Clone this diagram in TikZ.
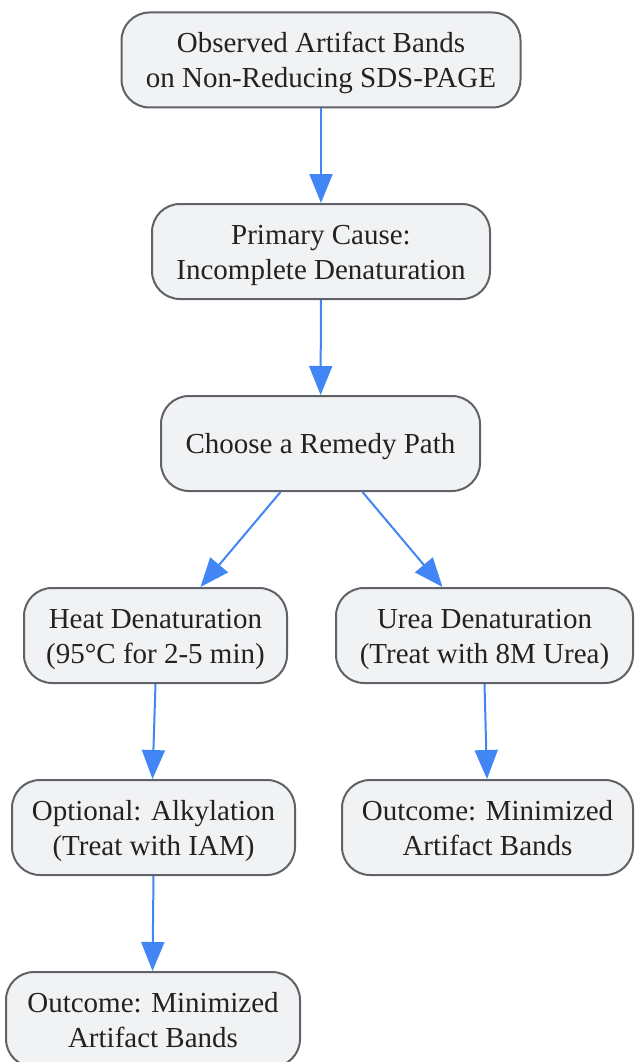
\documentclass[tikz,border=0pt]{standalone}
\usepackage{fontspec}
\setmainfont{Liberation Serif}
\usetikzlibrary{arrows.meta}
\definecolor{boxfill}{HTML}{F1F2F4}
\definecolor{boxline}{HTML}{5F6368}
\definecolor{arrblue}{HTML}{4285F4}
\definecolor{txt}{HTML}{222222}
\begin{document}
\begin{tikzpicture}[x=1pt, y=-1pt,
    box/.style={draw=boxline, line width=2pt, fill=boxfill, rounded corners=28pt,
        minimum height=95pt, inner sep=0pt, align=center, text=txt,
        text height=55pt, text depth=0pt,
        font=\fontsize{29}{35}\selectfont},
    arr/.style={draw=arrblue, line width=2pt, -{Triangle[length=29pt,width=23pt]}}]
                \useasboundingbox (0,0) rectangle (634,1062);
%
                \node [box, minimum width=399pt] (observed) at (321,60) {Observed Artifact Bands\\on Non-Reducing SDS-PAGE};
                \node [box, minimum width=338pt] (cause) at (321,251.5) {Primary Cause:\\Incomplete Denaturation};
                \node [box, minimum width=319pt, text height=20pt] (choose) at (320.5,443.5) {Choose a Remedy Path};
%
                \node [box, minimum width=263pt] (heat) at (155.5,635.5) {Heat Denaturation\\(95°C for 2-5 min)};
                \node [box, minimum width=297pt] (urea) at (484.5,635.5) {Urea Denaturation\\(Treat with 8M Urea)};
                \node [box, minimum width=283pt] (alkyl) at (153.5,827.5) {Optional: Alkylation\\(Treat with IAM)};
                \node [box, minimum width=291pt] (outright) at (487.5,827.5) {Outcome: Minimized\\Artifact Bands};
                \node [box, minimum width=294pt] (outleft) at (153,1019.5) {Outcome: Minimized\\Artifact Bands};
%
                \draw [arr] (observed) -- (cause);
                \draw [arr] (cause) -- (choose);
                \draw [arr] ([xshift=-40pt]choose.south) -- ([xshift=45pt]heat.north);
                \draw [arr] ([xshift=42pt]choose.south) -- ([xshift=-42pt]urea.north);
                \draw [arr] (heat.south) -- ([xshift=-1pt]alkyl.north);
                \draw [arr] (urea.south) -- ([xshift=-0.5pt]outright.north);
                \draw [arr] (alkyl.south) -- ([xshift=-0.5pt]outleft.north);
\end{tikzpicture}
\end{document}
